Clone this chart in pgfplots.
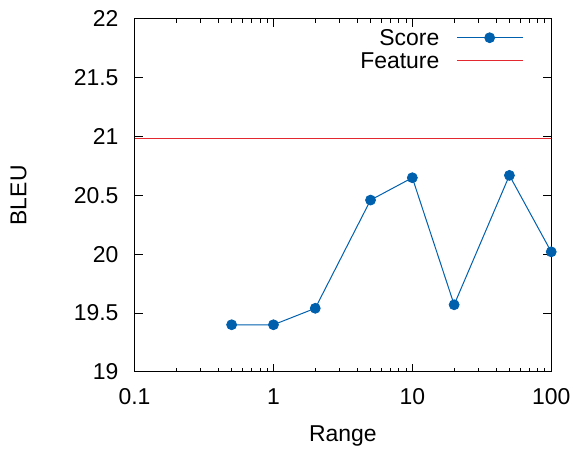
\documentclass[border=0pt]{standalone}
\usepackage{fontspec}
\setmainfont{Liberation Sans}
\usepackage{pgfplots}
\pgfplotsset{compat=1.18}
\definecolor{gblue}{RGB}{0,96,173}
\definecolor{gred}{RGB}{228,40,48}
\begin{document}
\fontsize{23}{27}\selectfont
\begin{tikzpicture}
\begin{axis}[
  name=ax,
  scale only axis,
  width=418pt, height=354pt,
  xmode=log, xmin=0.1, xmax=100,
  ymin=19, ymax=22,
  xtick={0.1,1,10,100}, xticklabels={0.1,1,10,100},
  minor xtick={0.2,0.3,0.4,0.5,0.6,0.7,0.8,0.9,2,3,4,5,6,7,8,9,20,30,40,50,60,70,80,90},
  ytick={19,19.5,20,20.5,21,21.5,22},
  yticklabels={19,19.5,20,20.5,21,21.5,22},
  tick align=inside,
  major tick length=8pt, minor tick length=4pt,
  every tick/.style={black, line width=0.9pt},
  axis line style={line width=1pt},
  xlabel={Range}, ylabel={BLEU},
  tick label style={font=\fontsize{23}{27}\selectfont},
  label style={font=\fontsize{23}{27}\selectfont},
  xticklabel style={yshift=-9pt},
  yticklabel style={xshift=-8.3pt},
  xlabel style={at={(axis description cs:0.5,0)}, anchor=north, yshift=-46pt},
  ylabel style={at={(axis description cs:-0.24,0.5)}, anchor=south, rotate=0},
  legend style={draw=none, fill=none, inner xsep=0pt, inner ysep=0pt,
    at={(rel axis cs:0.933,0.970)}, anchor=north east,
    nodes={inner sep=0pt, text depth=0pt},
    font=\fontsize{23}{27}\selectfont, row sep=7pt, column sep=17pt},
  legend cell align=right,
  legend plot pos=right,
  legend image code/.code={
    \draw[mark repeat=2, mark phase=2, #1] plot coordinates {(0pt,0pt)(33pt,0pt)(66pt,0pt)};
  },
]
\addplot[color=gblue, line width=1pt, mark=*, mark size=5pt, mark options={solid, fill=gblue, draw=gblue, line width=0.8pt}]
  coordinates {(0.5,19.40)(1,19.40)(2,19.54)(5,20.46)(10,20.65)(20,19.57)(50,20.67)(100,20.02)};
\addlegendentry{Score}
\addplot[color=gred, line width=1.1pt, no marks]
  coordinates {(0.1,20.98)(100,20.98)};
\addlegendentry{Feature}
\end{axis}
\path ([xshift=-135pt,yshift=-75pt]ax.south west) rectangle ([xshift=25pt,yshift=19pt]ax.north east);
\end{tikzpicture}
\end{document}
